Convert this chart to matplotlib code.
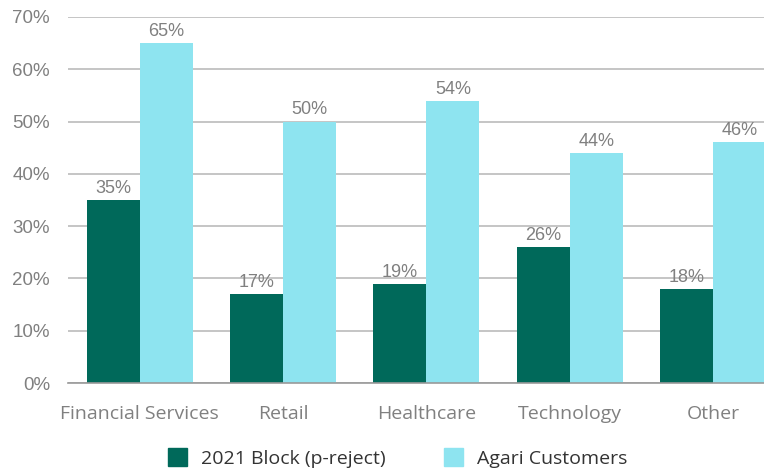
import numpy as np
import matplotlib.pyplot as plt
from matplotlib.patches import Patch

categories = ["Financial Services", "Retail", "Healthcare", "Technology", "Other"]
block_2021 = [35, 17, 19, 26, 18]
agari = [65, 50, 54, 44, 46]
series_names = ["2021 Block (p-reject)", "Agari Customers"]

dark_green = "#00695A"
light_cyan = "#8EE4F0"
grey_text = "#808080"

fig = plt.figure(figsize=(7.64, 4.68), dpi=100)
ax = fig.add_axes([0.089, 0.1816, 0.911, 0.7821])

x = np.arange(len(categories))
w = 0.37
b1 = ax.bar(x - w / 2, block_2021, w, color=dark_green, zorder=3)
b2 = ax.bar(x + w / 2, agari, w, color=light_cyan, zorder=3)

for bars, vals in ((b1, block_2021), (b2, agari)):
    for rect, v in zip(bars, vals):
        ax.text(rect.get_x() + rect.get_width() / 2, v + 0.6, f"{v}%",
                ha="center", va="bottom", fontsize=13, color=grey_text,
                family="Liberation Sans")

ax.set_ylim(0, 70)
ax.set_xlim(-0.5, 4.355)
ax.set_yticks(range(0, 71, 10))
ax.set_yticklabels([f"{t}%" for t in range(0, 71, 10)], fontsize=13.5,
                   color=grey_text, family="Liberation Sans")
ax.set_xticks(x)
ax.set_xticklabels(categories, fontsize=14, color=grey_text, family="Open Sans")
ax.tick_params(axis="both", length=0)
ax.tick_params(axis="x", pad=16)
ax.tick_params(axis="y", pad=13)

ax.grid(axis="y", color="#b5b5b5", linewidth=1.1, zorder=0)
for s in ("top", "right", "left"):
    ax.spines[s].set_visible(False)
ax.spines["bottom"].set_color("#999999")
ax.spines["bottom"].set_linewidth(1.2)
ax.spines["bottom"].set_zorder(4)

handles = [Patch(color=dark_green), Patch(color=light_cyan)]
fig.legend(handles, series_names, loc="center", bbox_to_anchor=(0.52, 0.021),
           ncol=2, frameon=False, handlelength=1.0, handleheight=1.0,
           handletextpad=0.7, columnspacing=3.0,
           prop={"family": "Open Sans", "size": 14})
for t in fig.legends[0].get_texts():
    t.set_color("#333333")

fig.savefig("out.png", dpi=100)
